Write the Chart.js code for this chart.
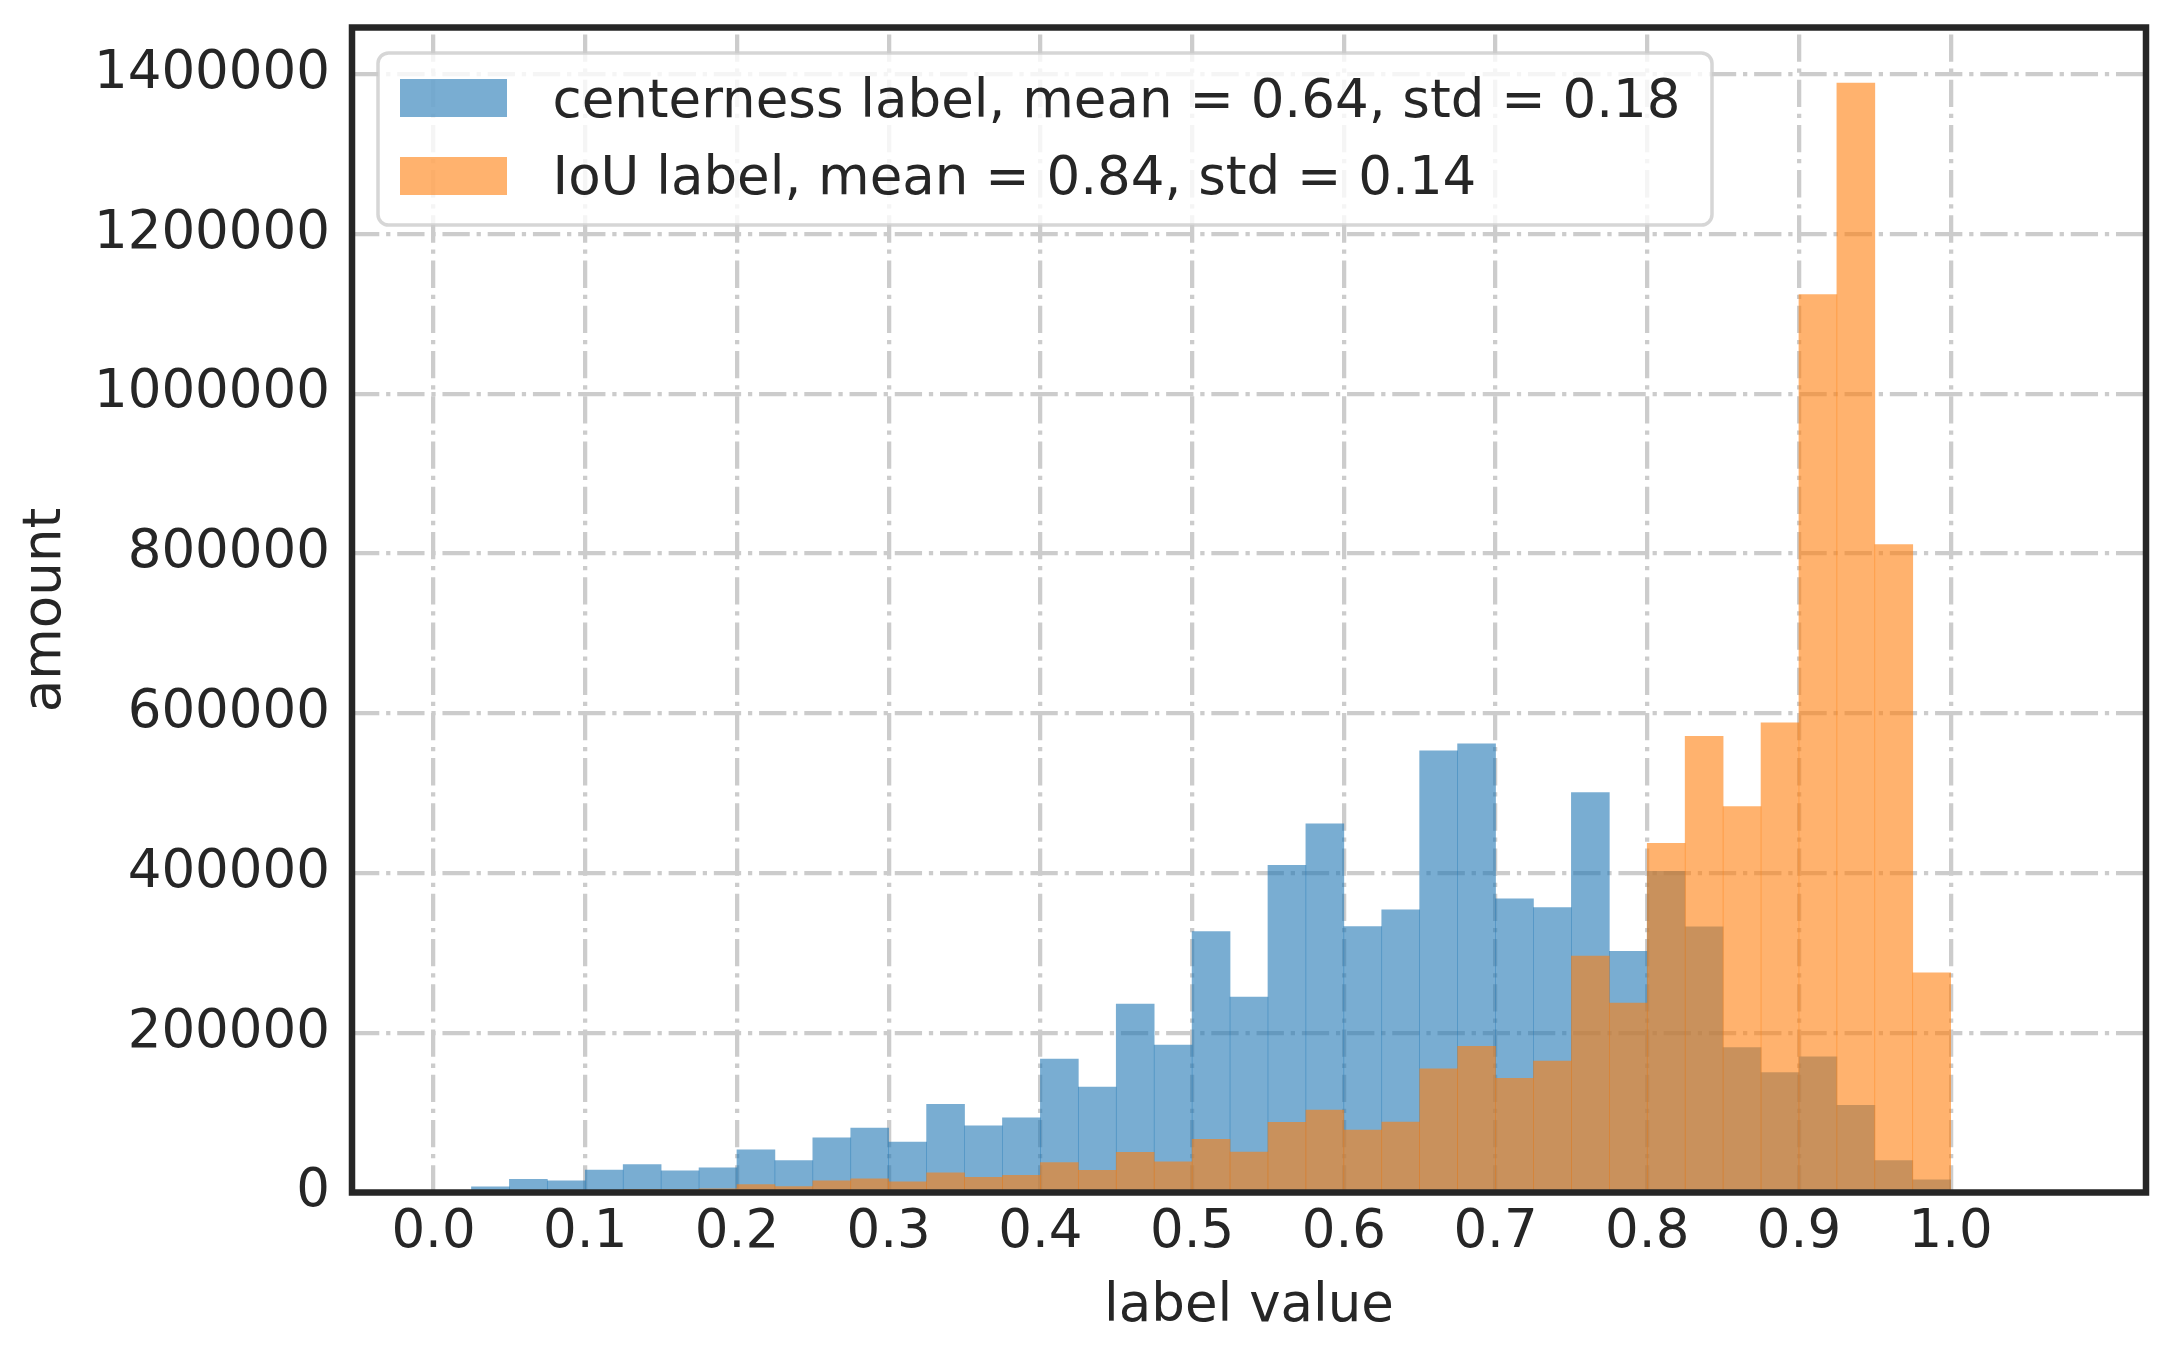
<!DOCTYPE html>
<html>
<head>
<meta charset="utf-8">
<script src="https://cdn.jsdelivr.net/npm/chart.js@4.4.1/dist/chart.umd.min.js"></script>
<style>
  html, body { margin: 0; padding: 0; background: #ffffff; }
  #wrap { width: 2172px; height: 1349px; }
</style>
</head>
<body>
<div id="wrap"><canvas id="c" width="2172" height="1349"></canvas></div>
<script>
// ---- data ----
const binCenters = [0.0125,0.0375,0.0625,0.0875,0.1125,0.1375,0.1625,0.1875,0.2125,0.2375,
                    0.2625,0.2875,0.3125,0.3375,0.3625,0.3875,0.4125,0.4375,0.4625,0.4875,
                    0.5125,0.5375,0.5625,0.5875,0.6125,0.6375,0.6625,0.6875,0.7125,0.7375,
                    0.7625,0.7875,0.8125,0.8375,0.8625,0.8875,0.9125,0.9375,0.9625,0.9875,
                    1.0125,1.0375,1.0625];
const centernessCounts = [0,7000,16500,14500,28000,35000,27000,31000,53500,40000,
                          68500,80500,63000,110500,83500,93500,167000,132000,236000,184500,
                          326500,244700,409600,461600,332900,353900,553000,561600,367600,356600,
                          500500,302000,402000,332500,181500,150000,170000,109000,40000,16000,
                          0,0,0];
const iouCounts = [0,0,500,1000,2000,3500,3500,4500,10000,7500,
                   14500,17000,13500,24500,19000,21500,37500,27800,50200,38400,
                   66700,50700,87700,103200,78100,88100,154800,183100,142900,164400,
                   295900,237000,437000,571000,483000,588000,1124000,1389000,811000,275000,
                   0,0,0];
const seriesLabels = ['centerness label, mean = 0.64, std = 0.18', 'IoU label, mean = 0.84, std = 0.14'];
const xTickValues = [0,0.1,0.2,0.3,0.4,0.5,0.6,0.7,0.8,0.9,1.0];
const xTickLabels = ['0.0','0.1','0.2','0.3','0.4','0.5','0.6','0.7','0.8','0.9','1.0'];
const yTickValues = [0,200000,400000,600000,800000,1000000,1200000,1400000];
const yTickLabels = ['0','200000','400000','600000','800000','1000000','1200000','1400000'];
const xTitle = 'label value';
const yTitle = 'amount';
const xRange = [-0.05375, 1.12875];
const yRange = [0, 1458450];

// ---- styles ----
const FONT = 'DejaVu Sans';
const TEXT = '#262626';
const colors = ['rgba(31,119,180,0.6)', 'rgba(255,127,14,0.6)'];
const GRID = '#cccccc';
const GRID_W = 4.27;
const DASH = [27.3, 6.83, 4.27, 6.83];

const framePlugin = {
  id: 'frame',
  afterDraw(chart) {
    const ctx = chart.ctx, a = chart.chartArea;
    ctx.save();
    ctx.strokeStyle = TEXT;
    ctx.lineWidth = 6.5;
    ctx.lineJoin = 'miter';
    ctx.strokeRect(a.left, a.top, a.right - a.left, a.bottom - a.top);
    ctx.restore();

    // legend (upper left, inside axes)
    const lx = 378, ly = 53, lw = 1334, lh = 172, r = 10.6;
    ctx.save();
    ctx.beginPath();
    ctx.roundRect(lx, ly, lw, lh, r);
    ctx.fillStyle = 'rgba(255,255,255,0.8)';
    ctx.fill();
    ctx.lineWidth = 3.5;
    ctx.strokeStyle = 'rgba(204,204,204,0.8)';
    ctx.stroke();
    const rowsY = [79, 157];
    const baselines = [116.5, 194];
    chart.data.datasets.forEach((ds, i) => {
      ctx.fillStyle = ds.backgroundColor;
      ctx.fillRect(400, rowsY[i], 107, 38);
      ctx.fillStyle = TEXT;
      ctx.font = '53px "' + FONT + '"';
      ctx.textBaseline = 'alphabetic';
      ctx.textAlign = 'left';
      ctx.fillText(ds.label, 552.5, baselines[i]);
    });
    ctx.restore();
  }
};

const mk = (counts, i, order) => ({
  label: seriesLabels[i],
  data: binCenters.map((x, k) => ({ x: x, y: counts[k] })),
  backgroundColor: colors[i],
  borderWidth: 0,
  grouped: false,
  barPercentage: 1,
  categoryPercentage: 1,
  order: order
});

const noPad = (s) => { s.paddingTop = 0; s.paddingBottom = 0; s.paddingLeft = 0; s.paddingRight = 0; };

new Chart(document.getElementById('c'), {
  type: 'bar',
  data: { datasets: [mk(centernessCounts, 0, 2), mk(iouCounts, 1, 1)] },
  plugins: [framePlugin],
  options: {
    responsive: false,
    devicePixelRatio: 1,
    animation: false,
    layout: { padding: { top: 27.5, right: 26, left: 0, bottom: 0 } },
    plugins: { legend: { display: false }, tooltip: { enabled: false } },
    scales: {
      x: {
        type: 'linear',
        min: xRange[0], max: xRange[1],
        offset: false,
        z: 1,
        grid: { offset: false, color: GRID, lineWidth: GRID_W, drawTicks: false },
        border: { display: false, dash: DASH, dashOffset: 38.3 },
        afterBuildTicks: (s) => { s.ticks = xTickValues.map(v => ({ value: v })); },
        afterFit: (s) => { s.height = 156.5; noPad(s); },
        ticks: {
          autoSkip: false, maxRotation: 0, minRotation: 0,
          padding: 9.4,
          color: TEXT,
          font: { family: FONT, size: 53 },
          callback: (v, i) => xTickLabels[i]
        },
        title: { display: true, text: xTitle, color: TEXT, font: { family: FONT, size: 53 }, padding: { top: 0, bottom: 10 } }
      },
      y: {
        type: 'linear',
        min: yRange[0], max: yRange[1],
        z: 1,
        grid: { color: GRID, lineWidth: GRID_W, drawTicks: false },
        border: { display: false, dash: DASH, dashOffset: 0 },
        afterBuildTicks: (s) => { s.ticks = yTickValues.map(v => ({ value: v })); },
        afterFit: (s) => { s.width = 352; noPad(s); },
        ticks: {
          padding: 22,
          color: TEXT,
          font: { family: FONT, size: 53 },
          callback: (v, i) => yTickLabels[i]
        },
        title: { display: true, text: yTitle, color: TEXT, font: { family: FONT, size: 53 }, padding: { top: 14, bottom: 0 } }
      }
    }
  }
});
</script>
</body>
</html>
